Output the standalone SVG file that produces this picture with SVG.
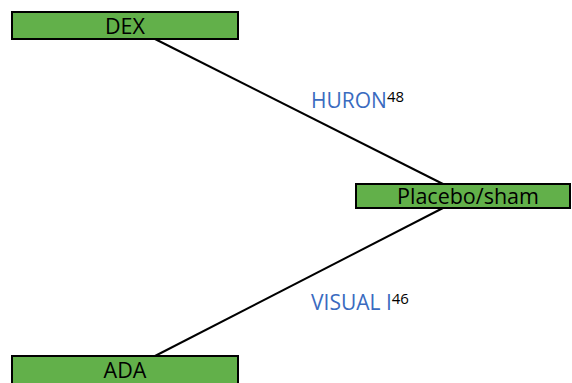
<svg xmlns="http://www.w3.org/2000/svg" width="572" height="383" viewBox="0 0 572 383">
<style>
.box{fill:#62b04a;stroke:#000;stroke-width:2}
.lbl{font-family:"Open Sans","Noto Sans",sans-serif;font-size:21.5px;fill:#000;text-anchor:middle}
.trial{font-family:"Open Sans","Noto Sans",sans-serif;font-size:21px;fill:#3a6bbf}
.sup{font-size:15px;fill:#000}
.edge{stroke:#000;stroke-width:2;fill:none}
</style>
<rect width="572" height="383" fill="#fff"/>
<g id="connectors">
<line class="edge" x1="155" y1="39" x2="443" y2="184"/>
<line class="edge" x1="155" y1="356" x2="443" y2="208"/>
<text class="trial" x="311" y="108">HURON<tspan class="sup" dy="-6">48</tspan></text>
<text class="trial" x="311" y="310">VISUAL I<tspan class="sup" dy="-6">46</tspan></text>
</g>
<g id="dex">
<rect class="box" x="12" y="12" width="226" height="27"/>
<text class="lbl" x="125" y="34">DEX</text>
</g>
<g id="placebo">
<rect class="box" x="356" y="184" width="214" height="24"/>
<text class="lbl" x="468" y="204">Placebo/sham</text>
</g>
<g id="ada">
<rect class="box" x="12" y="356" width="226" height="30"/>
<text class="lbl" x="125" y="378">ADA</text>
</g>
</svg>
